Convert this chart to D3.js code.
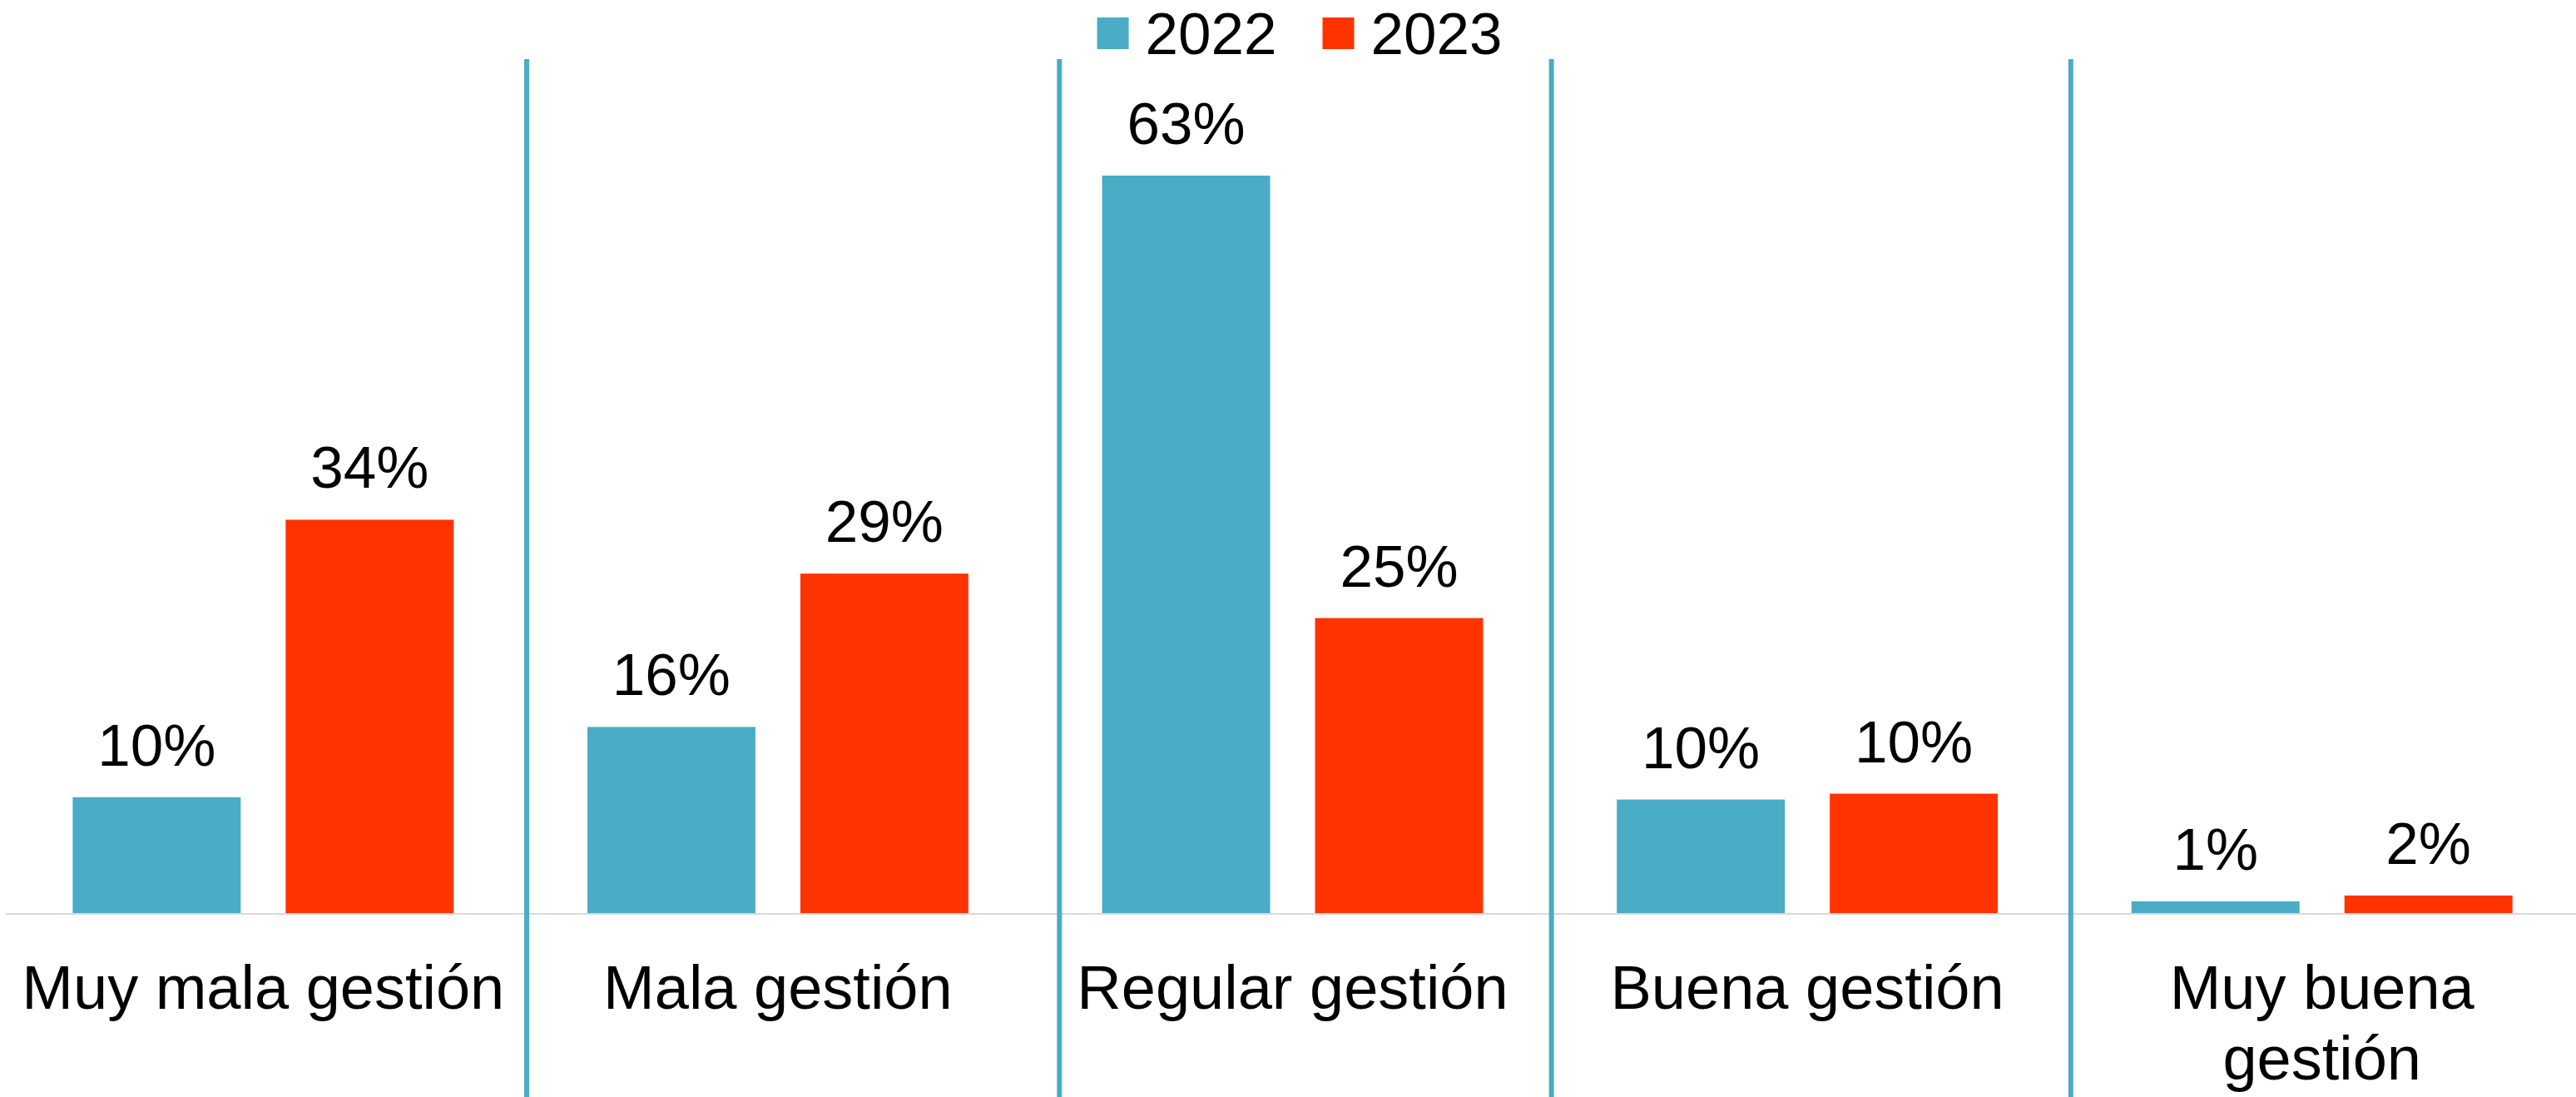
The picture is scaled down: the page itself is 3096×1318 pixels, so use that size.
<!DOCTYPE html>
<html>
<head>
<meta charset="utf-8">
<script src="https://cdn.jsdelivr.net/npm/d3@7"></script>
<style>
  html, body { margin: 0; padding: 0; background: #ffffff; }
  svg { display: block; }
</style>
</head>
<body>
<svg id="chart" width="3096" height="1318"></svg>
<script>
// ---- Data ----
const categories = ["Muy mala gestión", "Mala gestión", "Regular gestión", "Buena gestión", "Muy buena gestión"];
const seriesNames = ["2022", "2023"];
const values2022 = [9.9, 15.9, 63.0, 9.7, 1.0];
const values2023 = [33.6, 29.0, 25.2, 10.2, 1.5];
const seriesColors = ["#4BACC6", "#FF3300"];
// divider positions, in category-index units (boundaries between groups)
const dividerPositions = [1.012, 2.047, 3.003, 4.012];

// ---- Layout ----
const W = 3096, H = 1318;
const plotLeft = 7, plotRight = 3100;
const baseY = 1097;
const svg = d3.select("#chart");

const x0 = d3.scaleBand().domain(categories).range([plotLeft, plotRight]).padding(0);
const x1 = d3.scaleBand().domain(seriesNames).range([0, x0.bandwidth()])
  .paddingInner(0.211).paddingOuter(0.314);
const y = d3.scaleLinear().domain([0, 63]).range([baseY, 211]);
const xIdx = d3.scaleLinear().domain([0, categories.length]).range([plotLeft, plotRight]);

const rows = categories.map((c, i) => ({
  cat: c,
  vals: [{ s: seriesNames[0], v: values2022[i] }, { s: seriesNames[1], v: values2023[i] }]
}));

// baseline
svg.append("line")
  .attr("x1", plotLeft).attr("x2", W)
  .attr("y1", baseY + 1).attr("y2", baseY + 1)
  .attr("stroke", "#D9D9D9").attr("stroke-width", 2);

// bars
const groups = svg.selectAll("g.grp").data(rows).join("g")
  .attr("class", "grp")
  .attr("transform", d => `translate(${x0(d.cat)},0)`);

groups.selectAll("rect").data(d => d.vals).join("rect")
  .attr("x", d => x1(d.s))
  .attr("width", x1.bandwidth())
  .attr("y", d => y(d.v))
  .attr("height", d => baseY - y(d.v))
  .attr("fill", (d, i) => seriesColors[i]);

groups.selectAll("text.val").data(d => d.vals).join("text")
  .attr("class", "val")
  .attr("x", d => x1(d.s) + x1.bandwidth() / 2)
  .attr("y", d => y(d.v) - 38)
  .attr("text-anchor", "middle")
  .attr("font-family", "'Liberation Sans', Arial, sans-serif")
  .attr("font-size", 71)
  .attr("fill", "#000")
  .text(d => Math.round(d.v) + "%");

// dividers
svg.selectAll("line.div").data(dividerPositions).join("line")
  .attr("class", "div")
  .attr("x1", d => xIdx(d)).attr("x2", d => xIdx(d))
  .attr("y1", 71).attr("y2", H)
  .attr("stroke", "#4BACC6").attr("stroke-width", 6);

// category labels with wrapping
const catLabels = svg.selectAll("text.cat").data(categories).join("text")
  .attr("class", "cat")
  .attr("x", d => x0(d) + x0.bandwidth() / 2)
  .attr("y", 1212)
  .attr("text-anchor", "middle")
  .attr("font-family", "'Liberation Sans', Arial, sans-serif")
  .attr("font-size", 74)
  .attr("fill", "#000");

catLabels.each(function(d) {
  const t = d3.select(this);
  const maxW = x0.bandwidth() - 10;
  const words = d.split(" ");
  let line = [];
  let lines = [];
  const probe = t.append("tspan");
  words.forEach(w => {
    const test = line.concat([w]).join(" ");
    probe.text(test);
    if (probe.node().getComputedTextLength() > maxW && line.length) {
      lines.push(line.join(" "));
      line = [w];
    } else {
      line.push(w);
    }
  });
  lines.push(line.join(" "));
  probe.remove();
  const cx = +t.attr("x");
  lines.forEach((ln, i) => {
    t.append("tspan").attr("x", cx).attr("dy", i === 0 ? 0 : 85).text(ln);
  });
});

// legend
const legend = svg.append("g");
let lx = 0;
seriesNames.forEach((s, i) => {
  const g = legend.append("g");
  g.append("rect").attr("x", lx).attr("y", 21).attr("width", 38).attr("height", 38)
    .attr("fill", seriesColors[i]);
  const tx = g.append("text").attr("x", lx + 58).attr("y", 65)
    .attr("font-family", "'Liberation Sans', Arial, sans-serif")
    .attr("font-size", 71).attr("fill", "#000").text(s);
  lx = lx + 58 + tx.node().getComputedTextLength() + 55;
});
const lw = lx - 55;
legend.attr("transform", `translate(${1562 - lw / 2},0)`);
</script>
</body>
</html>
